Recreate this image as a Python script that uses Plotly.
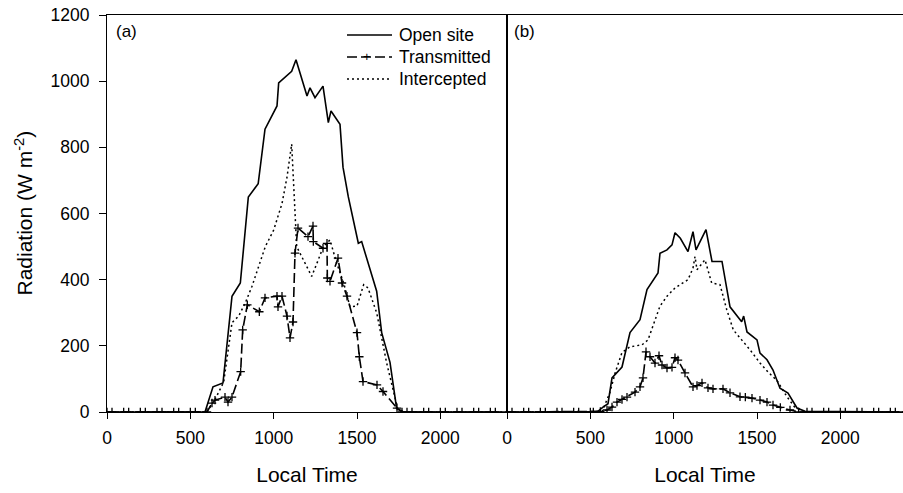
import plotly.graph_objects as go

# ---------------- data (Local Time in HHMM, radiation in W m-2) ----------------
night_am = [0, 30, 100, 130, 200, 230, 300, 330, 400, 430, 500, 530]
night_pm = [1800, 1830, 1900, 1930, 2000, 2030, 2100, 2130, 2200, 2230, 2300, 2330]

# Panel (a)
open_a_t = [0, 588, 636, 696, 750, 800, 848, 907, 948, 1020, 1030, 1108, 1134, 1200,
            1218, 1248, 1296, 1328, 1344, 1398, 1416, 1448, 1508, 1528, 1618, 1648,
            1698, 1738, 1780, 2400]
open_a_v = [0, 0, 76, 88, 350, 390, 650, 690, 855, 925, 995, 1030, 1065, 955,
            980, 950, 985, 875, 910, 870, 740, 650, 510, 515, 365, 240,
            150, 10, 0, 0]

trans_a_day_t = [600, 630, 648, 708, 726, 750, 802, 814, 842, 914, 948, 1020, 1026,
                 1050, 1080, 1098, 1116, 1128, 1146, 1206, 1236, 1238, 1296, 1320,
                 1322, 1338, 1386, 1410, 1440, 1500, 1514, 1536, 1620, 1656, 1740, 1770]
trans_a_day_v = [0, 27, 36, 45, 30, 45, 122, 248, 324, 303, 345, 350, 318,
                 350, 290, 224, 272, 480, 556, 530, 562, 515, 495, 510,
                 405, 395, 465, 390, 350, 240, 167, 92, 82, 62, 12, 0]

inter_a_t = [0, 600, 650, 700, 750, 790, 830, 870, 910, 950, 1000, 1050, 1080, 1108,
             1138, 1198, 1228, 1260, 1298, 1338, 1378, 1420, 1458, 1500, 1540, 1566,
             1618, 1678, 1745, 1790, 2400]
inter_a_v = [0, 0, 40, 90, 270, 290, 330, 380, 440, 500, 550, 630, 710, 810,
             500, 440, 410, 450, 500, 520, 450, 390, 318, 320, 385, 375,
             300, 148, 8, 0, 0]

# Panel (b)
open_b_t = [0, 540, 576, 606, 630, 690, 738, 798, 840, 906, 918, 960, 990, 1008,
            1040, 1086, 1116, 1134, 1194, 1230, 1290, 1338, 1408, 1420, 1440, 1500,
            1518, 1560, 1596, 1638, 1686, 1740, 1788, 2400]
open_b_v = [0, 0, 15, 25, 103, 136, 240, 279, 370, 420, 480, 490, 505, 542,
            525, 485, 545, 490, 551, 455, 455, 318, 273, 290, 242, 218,
            178, 158, 127, 72, 57, 12, 2, 0]

trans_b_day_t = [518, 560, 600, 630, 660, 690, 720, 768, 798, 816, 834, 858, 888, 912,
                 930, 960, 990, 1008, 1026, 1068, 1116, 1140, 1170, 1206, 1236,
                 1296, 1338, 1398, 1430, 1470, 1518, 1560, 1596, 1640, 1698, 1750]
trans_b_day_v = [0, 2, 6, 15, 30, 38, 45, 60, 76, 103, 182, 167, 148, 170,
                 142, 133, 135, 164, 157, 118, 76, 80, 88, 73, 70,
                 70, 58, 46, 45, 42, 36, 30, 21, 14, 6, 0]

inter_b_t = [0, 570, 618, 650, 690, 738, 810, 846, 918, 960, 1008, 1086, 1116, 1128,
             1140, 1188, 1228, 1278, 1318, 1358, 1408, 1458, 1518, 1568, 1620, 1680,
             1726, 1790, 2400]
inter_b_v = [0, 0, 60, 120, 180, 197, 203, 218, 320, 350, 375, 400, 435, 470,
             430, 460, 390, 385, 310, 248, 218, 188, 148, 120, 95, 46,
             15, 0, 0]

series_names = ["Open site", "Transmitted", "Intercepted"]
xtick_vals = [0, 500, 1000, 1500, 2000]

# ---------------- figure ----------------
W, H = 903, 493
ML, MR, MT, MB = 107, 0, 15, 81
plot_w = W - ML - MR          # 796 px
plot_h = H - MT - MB          # 397 px
split = 400 / plot_w

FONT = "Arial, Liberation Sans, sans-serif"
TICKSIZE = 17.5
fig = go.Figure()

DASH_T = "10px,4px"
DOT_I = "2px,3px"

def add_panel(xa, ya, open_t, open_v, trans_t, trans_v, inter_t, inter_v):
    fig.add_trace(go.Scatter(x=open_t, y=open_v, mode="lines", name=series_names[0],
                             line=dict(color="black", width=1.6), xaxis=xa, yaxis=ya,
                             showlegend=False))
    fig.add_trace(go.Scatter(x=trans_t, y=trans_v, mode="lines+markers", name=series_names[1],
                             line=dict(color="black", width=1.6, dash=DASH_T),
                             marker=dict(symbol="cross-thin", size=6,
                                         line=dict(color="black", width=1.3)),
                             xaxis=xa, yaxis=ya, showlegend=False))
    fig.add_trace(go.Scatter(x=inter_t, y=inter_v, mode="lines", name=series_names[2],
                             line=dict(color="black", width=1.5, dash=DOT_I),
                             xaxis=xa, yaxis=ya, showlegend=False))

add_panel("x", "y", open_a_t, open_a_v,
          night_am + trans_a_day_t + night_pm,
          [0] * len(night_am) + trans_a_day_v + [0] * len(night_pm),
          inter_a_t, inter_a_v)
add_panel("x2", "y2", open_b_t, open_b_v,
          night_am[:-1] + trans_b_day_t + night_pm,
          [0] * (len(night_am) - 1) + trans_b_day_v + [0] * len(night_pm),
          inter_b_t, inter_b_v)

common_x = dict(tickvals=xtick_vals, ticks="outside", ticklen=6, tickcolor="black",
                showline=True, linecolor="black", linewidth=1.2, mirror=True,
                showgrid=False, zeroline=False, ticklabelstandoff=4,
                ticklabeloverflow="allow",
                tickfont=dict(family=FONT, size=TICKSIZE, color="black"),
                title=dict(text="Local Time", font=dict(family=FONT, size=21, color="black"),
                           standoff=20))

# manual legend (page pixel positions converted to paper fractions)
def px(xpage):
    return (xpage - ML) / plot_w

def py(ypage):
    return (H - MB - ypage) / plot_h

legend_rows = [35, 57, 79]
legend_dash = ["solid", DASH_T, DOT_I]
shapes = []
annotations = []
for name, yrow, dash in zip(series_names, legend_rows, legend_dash):
    shapes.append(dict(type="line", xref="paper", yref="paper",
                       x0=px(347), x1=px(392), y0=py(yrow), y1=py(yrow),
                       line=dict(color="black", width=1.6, dash=dash)))
    annotations.append(dict(text=name, xref="paper", yref="paper", x=px(397), y=py(yrow),
                            xanchor="left", yanchor="middle", showarrow=False,
                            font=dict(family=FONT, size=17.5, color="black")))
annotations.append(dict(text="+", xref="paper", yref="paper", x=px(367), y=py(legend_rows[1]),
                        xanchor="center", yanchor="middle", showarrow=False,
                        font=dict(family=FONT, size=13, color="black")))
annotations += [
    dict(text="(a)", xref="paper", yref="paper", x=px(114), y=py(31),
         xanchor="left", yanchor="middle", showarrow=False,
         font=dict(family=FONT, size=17, color="black")),
    dict(text="(b)", xref="paper", yref="paper", x=px(512), y=py(31),
         xanchor="left", yanchor="middle", showarrow=False,
         font=dict(family=FONT, size=17, color="black")),
    dict(text="Radiation (W m<sup>-2</sup>)", xref="paper", yref="paper",
         x=px(23), y=0.5, xanchor="center", yanchor="middle", textangle=-90,
         showarrow=False, font=dict(family=FONT, size=21, color="black")),
]

fig.update_layout(
    width=W, height=H,
    margin=dict(l=ML, r=MR, t=MT, b=MB, autoexpand=False),
    paper_bgcolor="white", plot_bgcolor="white",
    xaxis=dict(domain=[0, split], range=[0, 2400], **common_x),
    xaxis2=dict(domain=[split, 1], range=[0, 2400 * (plot_w - 400) / 400], anchor="y2", **common_x),
    yaxis=dict(range=[0, 1200], dtick=200, ticks="outside", ticklen=7, tickcolor="black",
               showline=True, linecolor="black", linewidth=1.2, mirror=True,
               showgrid=False, zeroline=False, ticklabelstandoff=6,
               ticklabeloverflow="allow",
               tickfont=dict(family=FONT, size=TICKSIZE, color="black")),
    yaxis2=dict(range=[0, 1200], anchor="x2", showticklabels=False, ticks="",
                showline=True, linecolor="black", linewidth=1.2,
                showgrid=False, zeroline=False),
    showlegend=False,
    shapes=shapes,
    annotations=annotations,
)

# remove the browser's default 8px body margin so the figure fills the window exactly
fig.write_html("out.html",
               config={"displayModeBar": False},
               post_script="document.body.style.margin='0';document.body.style.overflow='hidden';")
